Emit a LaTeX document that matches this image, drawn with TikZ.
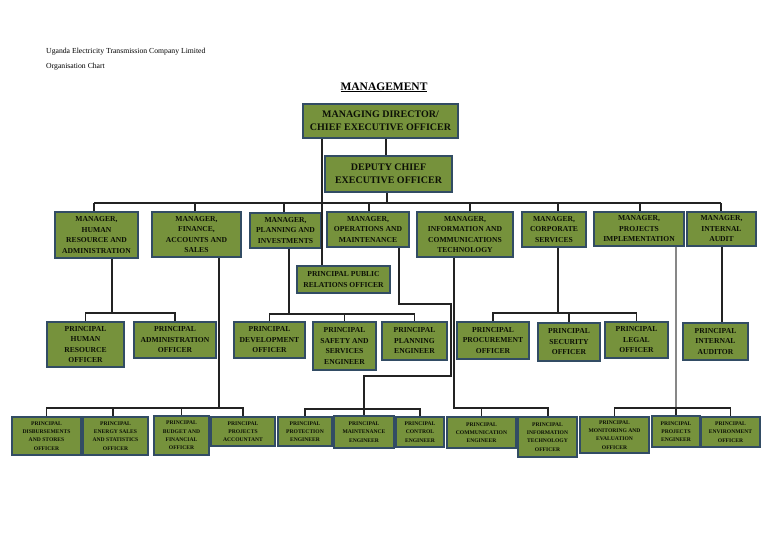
\documentclass[tikz,border=0pt]{standalone}
\usepackage{fontspec}
\setmainfont{Liberation Serif}
\definecolor{boxfill}{RGB}{118,146,60}
\definecolor{boxdraw}{RGB}{50,76,100}
\definecolor{boxtext}{RGB}{12,16,6}
\definecolor{conncol}{RGB}{35,35,35}
\definecolor{connlightcol}{RGB}{135,135,135}
\tikzset{
  box/.style={draw=boxdraw, fill=boxfill, line width=1.1pt, inner sep=0pt, align=center, text=boxtext},
  bigf/.style={font=\fontsize{10}{13}\selectfont\bfseries},
  midf/.style={font=\fontsize{7.6}{10.5}\selectfont\bfseries},
  smallf/.style={font=\fontsize{5.6}{8.3}\selectfont\bfseries},
  conn/.style={draw=conncol, line width=1.1pt},
  connlight/.style={draw=connlightcol, line width=1.3pt},
}
\newcommand\bx[7]{\node[box,#6,minimum width={(#4-#2)*1pt},minimum height={(#5-#3)*1pt}] (#1) at ({(#2+#4)/2},{(#3+#5)/2}) {#7};}
\begin{document}
\begin{tikzpicture}[x=1pt,y=-1pt]
\useasboundingbox (0,0) rectangle (768,543);
% header
\node[anchor=base west, inner sep=0pt, font=\fontsize{7.7}{9}\selectfont] (hdr1) at (46,53) {Uganda Electricity Transmission Company Limited};
\node[anchor=base west, inner sep=0pt, font=\fontsize{7.7}{9}\selectfont] (hdr2) at (46,69) {Organisation Chart};
\node[anchor=base, inner sep=0pt, font=\fontsize{11.5}{13}\selectfont\bfseries] (title) at (384,90) {\underline{MANAGEMENT}};
% top
\bx{md}{303}{104}{458}{138}{bigf}{MANAGING DIRECTOR/\\CHIEF EXECUTIVE OFFICER}
\bx{dceo}{325}{156}{452}{192}{bigf}{DEPUTY CHIEF\\EXECUTIVE OFFICER}
% managers
\bx{mhr}{55}{212}{138}{258}{midf}{MANAGER,\\HUMAN\\RESOURCE AND\\ADMINISTRATION}
\bx{mfin}{152}{212}{241}{257}{midf}{MANAGER,\\FINANCE,\\ACCOUNTS AND\\SALES}
\bx{mplan}{250}{213}{321}{248}{midf}{MANAGER,\\PLANNING AND\\INVESTMENTS}
\bx{mops}{327}{212}{409}{247}{midf}{MANAGER,\\OPERATIONS AND\\MAINTENANCE}
\bx{mict}{417}{212}{513}{257}{midf}{MANAGER,\\INFORMATION AND\\COMMUNICATIONS\\TECHNOLOGY}
\bx{mcorp}{522}{212}{586}{247}{midf}{MANAGER,\\CORPORATE\\SERVICES}
\bx{mproj}{594}{212}{684}{246}{midf}{MANAGER,\\PROJECTS\\IMPLEMENTATION}
\bx{maud}{687}{212}{756}{246}{midf}{MANAGER,\\INTERNAL\\AUDIT}
\bx{ppr}{297}{266}{390}{293}{midf}{PRINCIPAL PUBLIC\\RELATIONS OFFICER}
% level 3
\bx{phr}{47}{322}{124}{367}{midf}{PRINCIPAL\\HUMAN\\RESOURCE\\OFFICER}
\bx{padm}{134}{322}{216}{358}{midf}{PRINCIPAL\\ADMINISTRATION\\OFFICER}
\bx{pdev}{234}{322}{305}{358}{midf}{PRINCIPAL\\DEVELOPMENT\\OFFICER}
\bx{psafe}{313}{322}{376}{370}{midf}{PRINCIPAL\\SAFETY AND\\SERVICES\\ENGINEER}
\bx{pplan}{382}{322}{447}{360}{midf}{PRINCIPAL\\PLANNING\\ENGINEER}
\bx{pproc}{457}{322}{529}{359}{midf}{PRINCIPAL\\PROCUREMENT\\OFFICER}
\bx{psec}{538}{323}{600}{361}{midf}{PRINCIPAL\\SECURITY\\OFFICER}
\bx{plegal}{605}{322}{668}{358}{midf}{PRINCIPAL\\LEGAL\\OFFICER}
\bx{paud}{683}{323}{748}{360}{midf}{PRINCIPAL\\INTERNAL\\AUDITOR}
% bottom row
\bx{bdis}{12}{417}{81}{455}{smallf}{PRINCIPAL\\DISBURSEMENTS\\AND STORES\\OFFICER}
\bx{bene}{83}{417}{148}{455}{smallf}{PRINCIPAL\\ENERGY SALES\\AND STATISTICS\\OFFICER}
\bx{bbud}{154}{416}{209}{455}{smallf}{PRINCIPAL\\BUDGET AND\\FINANCIAL\\OFFICER}
\bx{bacc}{211}{417}{275}{446}{smallf}{PRINCIPAL\\PROJECTS\\ACCOUNTANT}
\bx{bprot}{278}{417}{332}{446}{smallf}{PRINCIPAL\\PROTECTION\\ENGINEER}
\bx{bmain}{334}{416}{394}{448}{smallf}{PRINCIPAL\\MAINTENANCE\\ENGINEER}
\bx{bctrl}{396}{417}{444}{447}{smallf}{PRINCIPAL\\CONTROL\\ENGINEER}
\bx{bcomm}{447}{417}{516}{448}{smallf}{PRINCIPAL\\COMMUNICATION\\ENGINEER}
\bx{bit}{518}{417}{577}{457}{smallf}{PRINCIPAL\\INFORMATION\\TECHNOLOGY\\OFFICER}
\bx{bme}{580}{417}{649}{453}{smallf}{PRINCIPAL\\MONITORING AND\\EVALUATION\\OFFICER}
\bx{bpeng}{652}{416}{700}{447}{smallf}{PRINCIPAL\\PROJECTS\\ENGINEER}
\bx{benv}{701}{417}{760}{447}{smallf}{PRINCIPAL\\ENVIRONMENT\\OFFICER}
% junction coordinates
\coordinate (busL) at (94,203);
\coordinate (busR) at (721,203);
\coordinate (jdc) at (387,203);
\coordinate (jhr) at (112,313);
\coordinate (jfin) at (219,408);
\coordinate (jplan) at (289,314);
\coordinate (jops1) at (451,304);
\coordinate (jops2) at (364,376);
\coordinate (jops3) at (364,409);
\coordinate (jict) at (548,408);
\coordinate (jcorp) at (558,313);
\coordinate (jproj) at (676,408);
% connectors
\draw[conn] (386,0 |- md.south) -- (386,0 |- dceo.north);
\draw[conn] (jdc |- dceo.south) -- (jdc);
\draw[conn] (busL) -- (busR);
\foreach \n/\x in {mhr/94, mfin/195, mplan/284, mops/369, mict/470, mcorp/558, mproj/640, maud/721}
  \draw[conn] (\x,203) -- (\x,0 |- \n.north);
\draw[conn] (322,0 |- md.south) -- (322,0 |- ppr.north);
% HR
\draw[conn] (jhr |- mhr.south) -- (jhr);
\draw[conn] (phr.north) |- (jhr) -| (padm.north);
% Finance
\draw[conn] (jfin |- mfin.south) -- (jfin);
\draw[conn] (bdis.north) |- (jfin) -| (bacc.north);
\draw[conn] (113,408) -- (113,0 |- bene.north);
\draw[conn] (bbud.north) -- (bbud.north |- jfin);
% Planning
\draw[conn] (jplan |- mplan.south) -- (jplan);
\draw[conn] (pdev.north) |- (jplan) -| (pplan.north);
\draw[conn] (psafe.north) -- (psafe.north |- jplan);
% Operations
\draw[conn] (399,0 |- mops.south) |- (jops1) |- (jops2) -- (jops3);
\draw[conn] (bprot.north) |- (jops3) -| (bctrl.north);
\draw[conn] (jops3) -- (bmain.north);
% ICT
\draw[conn] (454,0 |- mict.south) |- (jict) -- (jict |- bit.north);
\draw[conn] (bcomm.north) -- (bcomm.north |- jict);
% Corporate
\draw[conn] (jcorp |- mcorp.south) -- (jcorp);
\draw[conn] (pproc.north) |- (jcorp) -| (plegal.north);
\draw[conn] (psec.north) -- (psec.north |- jcorp);
% Internal audit
\draw[conn] (722,0 |- maud.south) -- (722,0 |- paud.north);
% Projects
\draw[connlight] (jproj |- mproj.south) -- (jproj);
\draw[conn] (bme.north) |- (jproj) -| (benv.north);
\draw[conn] (jproj) -- (bpeng.north);
\end{tikzpicture}
\end{document}
